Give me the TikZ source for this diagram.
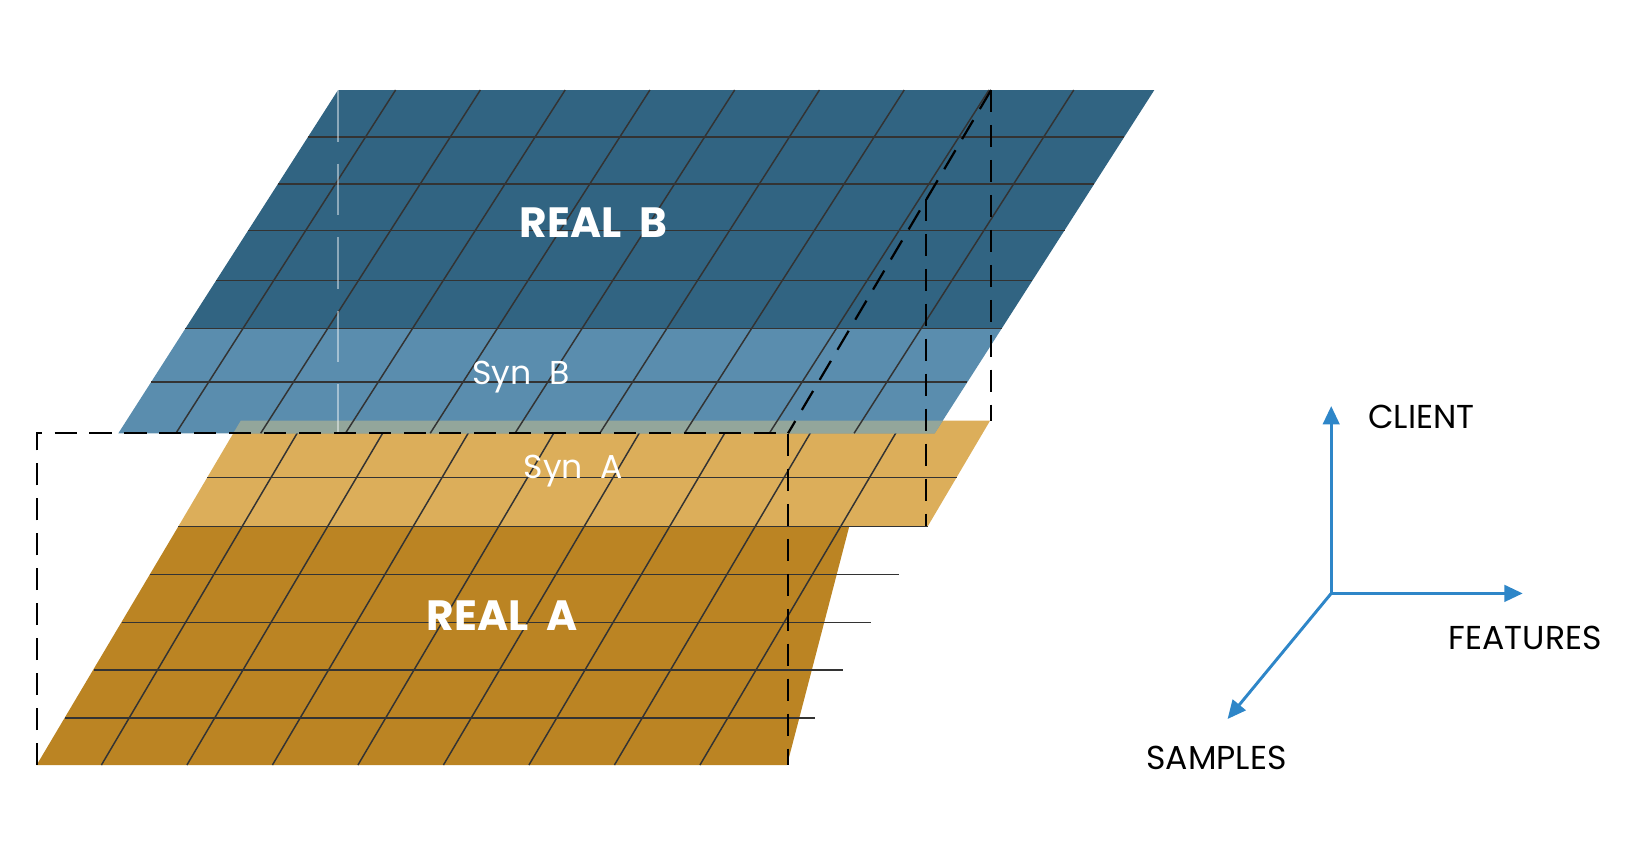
\documentclass[tikz,border=0pt]{standalone}
\usepackage{fontspec}
\setmainfont{Poppins}
\usetikzlibrary{arrows.meta}
\definecolor{bdark}{HTML}{316482}
\definecolor{blight}{HTML}{5A8DAE}
\definecolor{alight}{HTML}{DCAE5A}
\definecolor{adark}{HTML}{BB8423}
\definecolor{mix}{HTML}{9AA99A}
\definecolor{axis}{HTML}{2E86C8}
\definecolor{gridc}{HTML}{333333}
\tikzset{
  gridline/.style={draw=gridc,line width=0.4pt},
  dashline/.style={draw=black,line width=0.6pt,dash pattern=on 6pt off 3.5pt},
  axisarrow/.style={draw=axis,line width=0.8pt,-{Triangle[length=5pt,width=4.5pt]}},
  bigtxt/.style={text=white,font=\bfseries\fontsize{11.5}{12}\selectfont},
  smtxt/.style={text=white,font=\fontsize{9}{10}\selectfont},
  axtxt/.style={text=black,font=\fontsize{9}{10}\selectfont}
}
\begin{document}
\begin{tikzpicture}[x=0.01cm,y=-0.01cm]
\useasboundingbox (0,0) rectangle (1568,811);
% ---- plane A ----
\fill[adark] (35,731) -- (752,731) -- ({946-0.59*(731-503)},503) -- ({230-0.59*(503-402)},503) -- cycle;
\fill[alight] ({230-0.59*(503-402)},503) -- ({946-0.59*(503-402)},503) -- (946,402) -- (230,402) -- cycle;
\foreach \y in {456,503,549,595,640,686} {
  \draw[gridline] ({230-0.59*(\y-402)},\y) -- ({946-0.59*(\y-402)},\y);
}
\foreach \k in {0,...,7} {
  \draw[gridline] ({291+81.7*\k},402) -- ({291+81.7*\k-0.59*329},731);
}
% ---- plane B ----
\fill[bdark] (323,86) -- (1103,86) -- ({1103-0.64*(314-86)},314) -- ({323-0.64*(314-86)},314) -- cycle;
\fill[blight] ({323-0.64*(314-86)},314) -- ({1103-0.64*(314-86)},314) -- ({1103-0.64*328},414) -- ({323-0.64*328},414) -- cycle;
\fill[mix,fill opacity=0.9] (230,402) -- ({1103-0.64*(402-86)},402) -- ({1103-0.64*328},414) -- ({230-0.59*12},414) -- cycle;
\foreach \y in {131,176,220,268,314,365} {
  \draw[gridline] ({323-0.64*(\y-86)},\y) -- ({1103-0.64*(\y-86)},\y);
}
\foreach \k in {0,...,8} {
  \draw[gridline] ({378+81*\k},86) -- ({378+81*\k-0.64*328},414);
}
\draw[white,opacity=0.45,line width=0.4pt,dash pattern=on 14pt off 6pt] (323,86) -- (323,414);
% ---- dashed guides ----
\coordinate (d1) at (35,414);
\coordinate (d2) at (35,731);
\coordinate (d3) at (753,414);
\coordinate (d4) at (753,731);
\coordinate (d5) at (947,86);
\coordinate (d6) at (947,402);
\coordinate (d7) at (885,190);
\coordinate (d8) at (885,503);
\draw[dashline] (d2) -- (d1) -- (d3) -- (d4);
\draw[dashline] (d5) -- (d6);
\draw[dashline] (d7) -- (d8);
\draw[dashline] (d5) -- (d3);
% ---- labels ----
\node[bigtxt] (realb) at (567,213) {REAL\ \ B};
\node[smtxt] (synb) at (498,360) {Syn\ \ B};
\node[smtxt] (syna) at (548,450) {Syn\ \ A};
\node[bigtxt] (reala) at (480,588) {REAL\ \ A};
% ---- axes ----
\coordinate (o) at (1272,567);
\coordinate (up) at (1272,388);
\coordinate (rt) at (1455,567);
\coordinate (dl) at (1173,687);
\draw[axisarrow] (o) -- (up);
\draw[axisarrow] (o) -- (rt);
\draw[axisarrow] (o) -- (dl);
\node[axtxt,anchor=west] (client) at (1295,398) {CLIENT};
\node[axtxt,anchor=west] (feat) at (1372,610) {FEATURES};
\node[axtxt,anchor=west] (samp) at (1083,724) {SAMPLES};
\end{tikzpicture}
\end{document}
